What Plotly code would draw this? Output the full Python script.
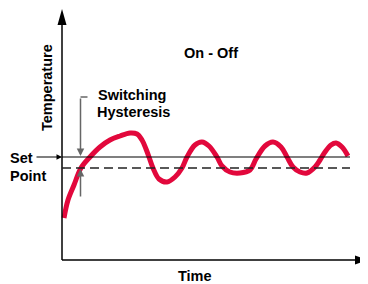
import plotly.graph_objects as go

# Schematic data: time vs temperature (arbitrary units)
time = [2, 6, 12, 19, 28, 38, 48, 58, 68, 75, 80, 84, 87, 91, 97, 105, 113, 120, 125, 133, 140,
        147, 155, 160, 168, 178, 188, 194, 203, 211, 219, 225, 231, 238, 245, 253, 258, 263,
        269, 274, 280, 286]
temperature = [42, 60, 75, 92, 103, 113, 120, 124, 127, 126, 120, 111, 103, 92, 81, 78, 83, 92,
               103, 115, 118, 114, 103, 94, 88, 87, 90, 101, 114, 118, 113, 103, 93, 88, 87, 93,
               100, 108, 115, 117, 113, 104]
set_point = 103
lower_switch = 92
line_end = 288

FONT = dict(family="Liberation Sans, Arial, Helvetica, sans-serif", size=14.5, color="black", weight="bold")
RED = "#e2083c"

fig = go.Figure()
fig.add_trace(go.Scatter(x=time, y=temperature, mode="lines",
                         line=dict(color=RED, width=5, shape="spline", smoothing=1),
                         hoverinfo="skip", showlegend=False))

shapes = [
    # y axis
    dict(type="line", x0=0, y0=0, x1=0, y1=236, line=dict(color="black", width=1.5)),
    dict(type="path", path="M -4.5 235 L 4.5 235 L 0 251 Z", fillcolor="black", line=dict(width=0)),
    # x axis
    dict(type="line", x0=0, y0=0, x1=294, y1=0, line=dict(color="black", width=1.5)),
    dict(type="path", path="M 293 -4.5 L 293 4.5 L 306 0 Z", fillcolor="black", line=dict(width=0)),
    # set point
    dict(type="line", x0=0, y0=set_point, x1=line_end, y1=set_point, line=dict(color="black", width=1.2)),
    dict(type="line", x0=0, y0=lower_switch, x1=line_end, y1=lower_switch,
         line=dict(color="#222222", width=1.3, dash="9px,5px")),
    # hysteresis bracket
    dict(type="line", x0=18.5, y0=163, x1=25.5, y1=163, line=dict(color="#666666", width=1.5)),
]

annotations = [
    # arrows
    dict(x=0, y=set_point, ax=-27, ay=set_point, axref="x", ayref="y", xref="x", yref="y",
         text="", showarrow=True, arrowhead=2, arrowsize=1, arrowwidth=1.1, arrowcolor="black"),
    dict(x=18.5, y=set_point + 1, ax=18.5, ay=163, axref="x", ayref="y", xref="x", yref="y",
         text="", showarrow=True, arrowhead=2, arrowsize=1, arrowwidth=1.5, arrowcolor="#666666"),
    dict(x=18.5, y=lower_switch - 1, ax=18.5, ay=62, axref="x", ayref="y", xref="x", yref="y",
         text="", showarrow=True, arrowhead=2, arrowsize=1, arrowwidth=1.5, arrowcolor="#666666"),
    # text
    dict(x=-54, y=102, text="Set", xanchor="left", showarrow=False, font=FONT),
    dict(x=-54, y=84, text="Point", xanchor="left", showarrow=False, font=FONT),
    dict(x=34, y=165, text="Switching", xanchor="left", showarrow=False, font=FONT),
    dict(x=33, y=148, text="Hysteresis", xanchor="left", showarrow=False, font=FONT),
    dict(x=149, y=207, text="On - Off", showarrow=False, font=FONT),
    dict(x=-15, y=172, text="Temperature", textangle=-90, showarrow=False, font=FONT),
    dict(x=133, y=-15.5, text="Time", showarrow=False, font=FONT),
]

# page body has an 8px margin, so the figure is 8px smaller than the window
fig.update_layout(
    width=360, height=276,
    margin=dict(l=0, r=0, t=0, b=0),
    paper_bgcolor="white", plot_bgcolor="white",
    xaxis=dict(range=[-54, 306], visible=False, fixedrange=True),
    yaxis=dict(range=[-24, 252], visible=False, fixedrange=True),
    shapes=shapes, annotations=annotations,
    showlegend=False,
)

fig.write_html("out.html")
